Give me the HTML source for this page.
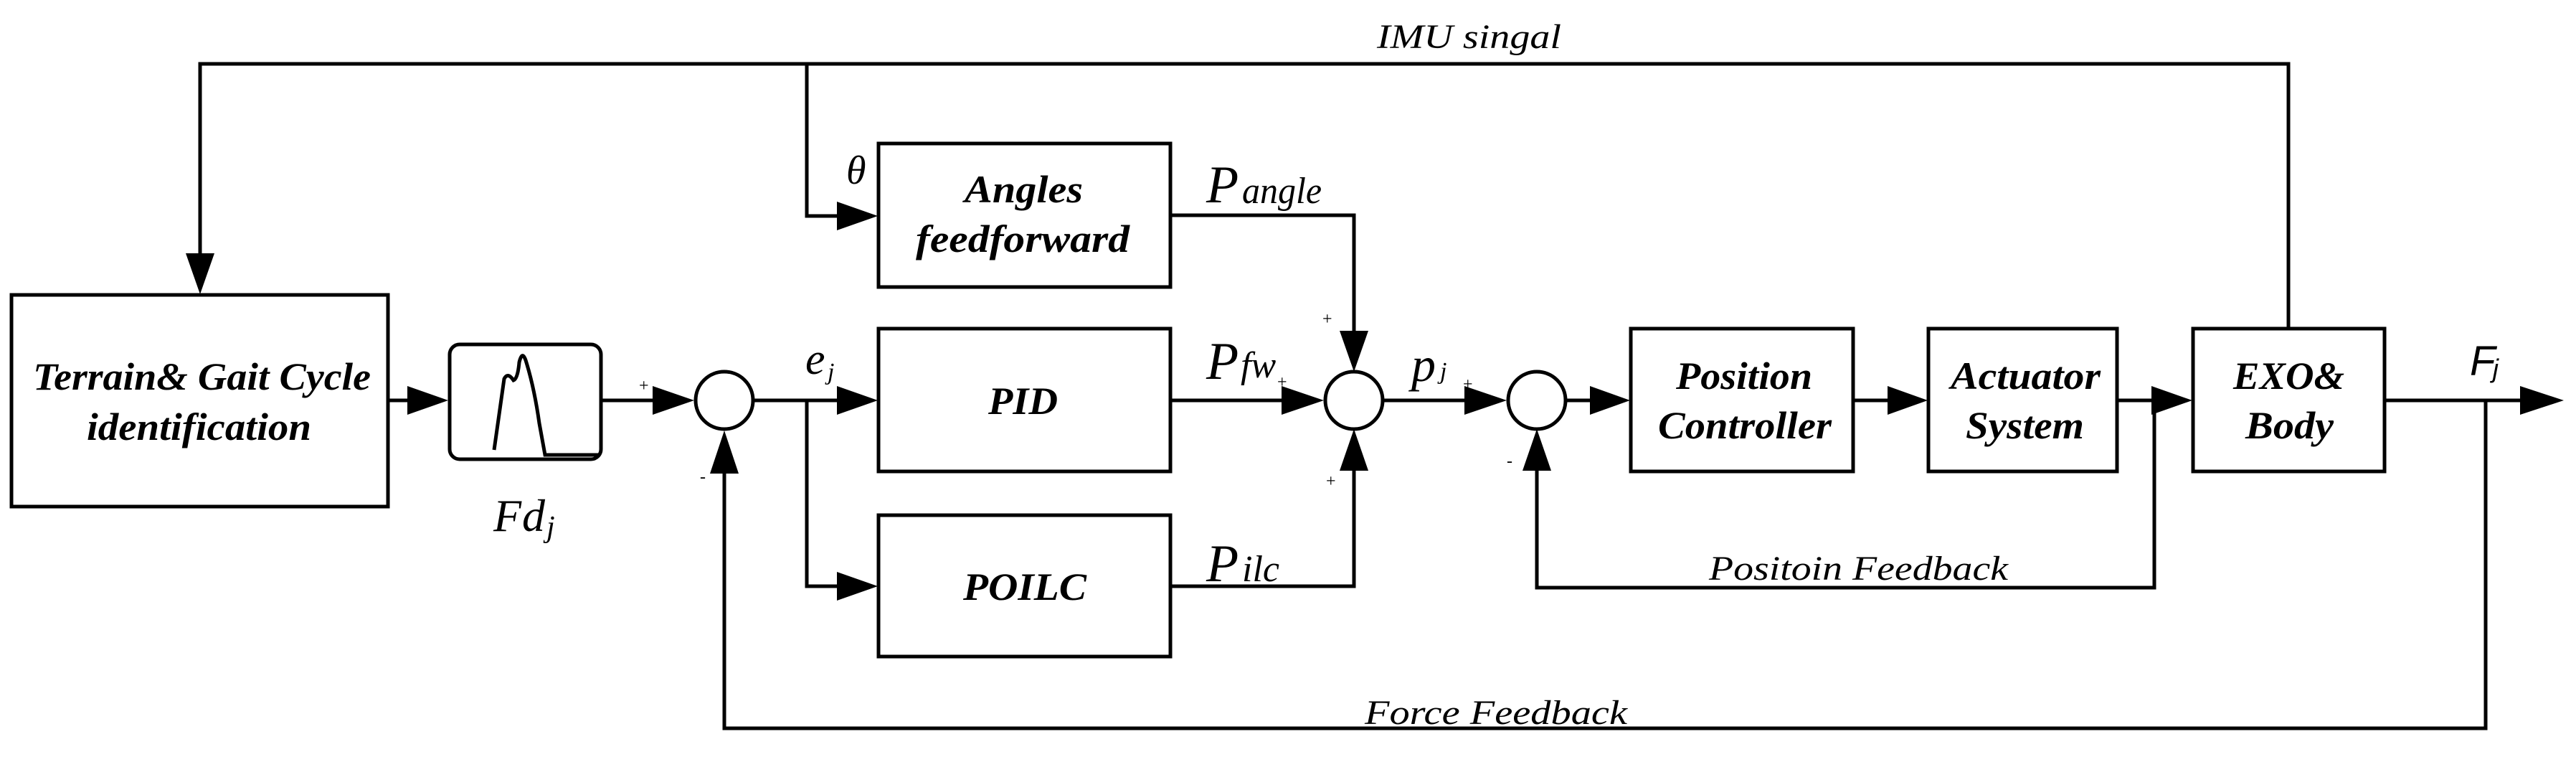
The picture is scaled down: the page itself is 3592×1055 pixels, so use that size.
<!DOCTYPE html>
<html><head><meta charset="utf-8"><style>
html,body{margin:0;padding:0;background:#fff;}
svg{display:block;}
.b{font-family:"Liberation Serif",serif;font-weight:bold;font-style:italic;font-size:54px;}
.i{font-family:"Liberation Serif",serif;font-style:italic;}
.s{font-family:"Liberation Serif",serif;font-size:24px;}
</style></head><body>
<svg width="3592" height="1055" viewBox="0 0 3592 1055" xmlns="http://www.w3.org/2000/svg">
<g fill="none" stroke="#000" stroke-width="5">
<rect x="16" y="411" width="525" height="295"/>
<rect x="627" y="480" width="211" height="160" rx="14"/>
<rect x="1225" y="200" width="407" height="200"/>
<rect x="1225" y="458" width="407" height="199"/>
<rect x="1225" y="718" width="407" height="197"/>
<rect x="2274" y="458" width="310" height="199"/>
<rect x="2689" y="458" width="263" height="199"/>
<rect x="3058" y="458" width="267" height="199"/>
<circle cx="1010" cy="558" r="40"/>
<circle cx="1888" cy="558" r="40"/>
<circle cx="2143" cy="558" r="40"/>
<path d="M689,627 L703,528 Q708,518 716,530 Q722,528 724,505 Q728,488 733,502 Q745,540 752,590 L760,634 L836,634" stroke-width="5"/>
<polyline points="279,360 279,89 3191,89 3191,458"/>
<polyline points="1125,89 1125,301 1170,301"/>
<line x1="541" y1="558" x2="575" y2="558"/>
<line x1="838" y1="558" x2="912" y2="558"/>
<line x1="1050" y1="558" x2="1170" y2="558"/>
<polyline points="1125,558 1125,817 1170,817"/>
<polyline points="1632,300 1888,300 1888,470"/>
<line x1="1632" y1="558" x2="1792" y2="558"/>
<polyline points="1632,817 1888,817 1888,650"/>
<line x1="1928" y1="558" x2="2050" y2="558"/>
<line x1="2183" y1="558" x2="2220" y2="558"/>
<line x1="2584" y1="558" x2="2635" y2="558"/>
<line x1="2952" y1="558" x2="3005" y2="558"/>
<line x1="3325" y1="558" x2="3520" y2="558"/>
<polyline points="3004,558 3004,819 2143,819 2143,650"/>
<polyline points="3466,558 3466,1015 1010,1015 1010,650"/>
</g>
<g fill="#000">
<polygon points="259,353 299,353 279,410"/>
<polygon points="568,538 568,578 625,558"/>
<polygon points="910,538 910,578 968,558"/>
<polygon points="990,660 1030,660 1010,600"/>
<polygon points="1167,281 1167,321 1224,301"/>
<polygon points="1167,538 1167,578 1224,558"/>
<polygon points="1167,797 1167,837 1224,817"/>
<polygon points="1868,461 1908,461 1888,518"/>
<polygon points="1787,538 1787,578 1846,558"/>
<polygon points="1868,656 1908,656 1888,598"/>
<polygon points="2042,538 2042,578 2101,558"/>
<polygon points="2217,538 2217,578 2273,558"/>
<polygon points="2632,538 2632,578 2688,558"/>
<polygon points="3000,538 3000,578 3057,558"/>
<polygon points="2123,656 2163,656 2143,598"/>
<polygon points="3514,538 3514,578 3575,558"/>
</g>
<g fill="#000">
<text class="b" x="46" y="543" textLength="471" lengthAdjust="spacingAndGlyphs">Terrain&amp; Gait Cycle</text>
<text class="b" x="121" y="613" textLength="313" lengthAdjust="spacingAndGlyphs">identification</text>
<text class="b" x="1345" y="282" textLength="165" lengthAdjust="spacingAndGlyphs">Angles</text>
<text class="b" x="1277" y="351" textLength="298" lengthAdjust="spacingAndGlyphs">feedforward</text>
<text class="b" x="1378" y="577" textLength="97" lengthAdjust="spacingAndGlyphs">PID</text>
<text class="b" x="1343" y="836" textLength="172" lengthAdjust="spacingAndGlyphs">POILC</text>
<text class="b" x="2337" y="542" textLength="190" lengthAdjust="spacingAndGlyphs">Position</text>
<text class="b" x="2312" y="611" textLength="242" lengthAdjust="spacingAndGlyphs">Controller</text>
<text class="b" x="2720" y="542" textLength="209" lengthAdjust="spacingAndGlyphs">Actuator</text>
<text class="b" x="2741" y="611" textLength="165" lengthAdjust="spacingAndGlyphs">System</text>
<text class="b" x="3114" y="542" textLength="155" lengthAdjust="spacingAndGlyphs">EXO&amp;</text>
<text class="b" x="3131" y="611" textLength="123" lengthAdjust="spacingAndGlyphs">Body</text>
<text class="i" x="1920" y="67" font-size="48" textLength="257" lengthAdjust="spacingAndGlyphs">IMU singal</text>
<text class="i" x="2383" y="808" font-size="48" textLength="417" lengthAdjust="spacingAndGlyphs">Positoin Feedback</text>
<text class="i" x="1903" y="1009" font-size="48" textLength="366" lengthAdjust="spacingAndGlyphs">Force Feedback</text>
<text class="i" x="1180" y="256" font-size="56">θ</text>
<text class="i" x="1682" y="282" font-size="74">P</text>
<text class="i" x="1732" y="283" font-size="52" textLength="111" lengthAdjust="spacingAndGlyphs">angle</text>
<text class="i" x="1682" y="528" font-size="74">P</text>
<text class="i" x="1730" y="526" font-size="52">fw</text>
<text class="i" x="1682" y="810" font-size="74">P</text>
<text class="i" x="1732" y="810" font-size="52">ilc</text>
<text class="i" x="1123" y="521" font-size="62">e</text>
<text class="i" x="1154" y="529" font-size="34">j</text>
<text class="i" x="1968" y="531" font-size="68">p</text>
<text class="i" x="2008" y="528" font-size="34">j</text>
<text class="i" x="688" y="740" font-size="64">F</text>
<text class="i" x="728" y="740" font-size="64">d</text>
<text class="i" x="762" y="748" font-size="42">j</text>
<text x="3444" y="523" font-family="Liberation Sans, sans-serif" font-style="italic" font-size="58">F</text>
<text x="3476" y="526" font-family="Liberation Sans, sans-serif" font-style="italic" font-size="36">j</text>
<text class="s" x="891" y="545">+</text>
<text class="s" x="976" y="672">-</text>
<text class="s" x="1844" y="452">+</text>
<text class="s" x="1781" y="540">+</text>
<text class="s" x="1849" y="678">+</text>
<text class="s" x="2040" y="543">+</text>
<text class="s" x="2101" y="650">-</text>
</g>
</svg>
</body></html>
